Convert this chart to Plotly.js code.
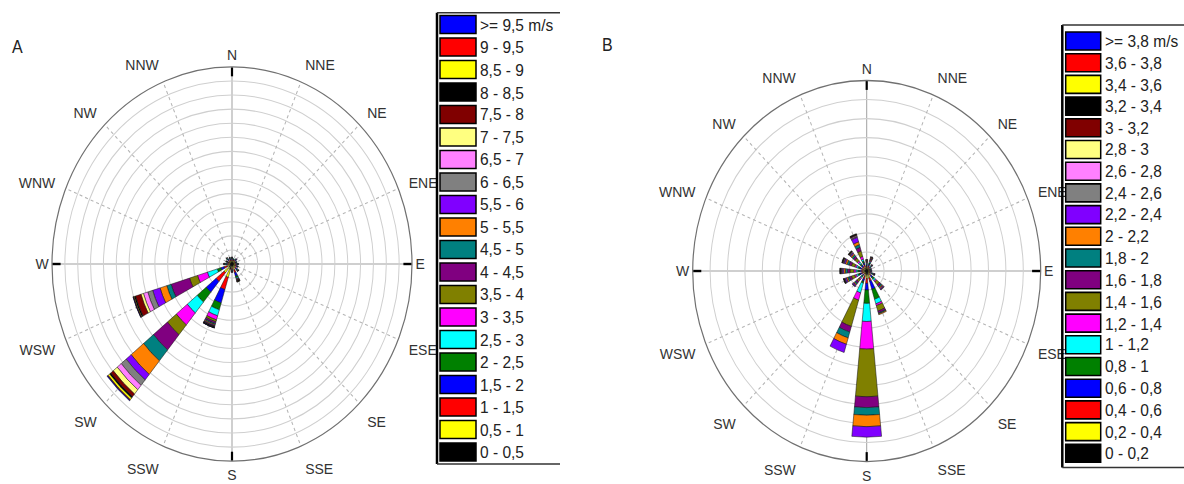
<!DOCTYPE html>
<html><head><meta charset="utf-8">
<script src="https://cdn.plot.ly/plotly-3.0.1.min.js"></script>
<style>
html,body{margin:0;padding:0;background:#fff;overflow:hidden}
#wrap{width:1184px;height:484px;overflow:hidden}
#chart{width:1184px;height:442px;transform:scaleY(1.095);transform-origin:0 0}
</style></head><body><div id="wrap"><div id="chart"></div></div>
<script>
// ---- categories / tick labels ----
const directions = ['N','NNE','NE','ENE','E','ESE','SE','SSE','S','SSW','SW','WSW','W','WNW','NW','NNW'];
const binLabelsA = ['0 - 0,5','0,5 - 1','1 - 1,5','1,5 - 2','2 - 2,5','2,5 - 3','3 - 3,5','3,5 - 4','4 - 4,5','4,5 - 5',
                    '5 - 5,5','5,5 - 6','6 - 6,5','6,5 - 7','7 - 7,5','7,5 - 8','8 - 8,5','8,5 - 9','9 - 9,5','>= 9,5 m/s'];
const binLabelsB = ['0 - 0,2','0,2 - 0,4','0,4 - 0,6','0,6 - 0,8','0,8 - 1','1 - 1,2','1,2 - 1,4','1,4 - 1,6','1,6 - 1,8','1,8 - 2',
                    '2 - 2,2','2,2 - 2,4','2,4 - 2,6','2,6 - 2,8','2,8 - 3','3 - 3,2','3,2 - 3,4','3,4 - 3,6','3,6 - 3,8','>= 3,8 m/s'];
const binColors = ['#000000','#FFFF00','#FF0000','#0000FF','#008000','#00FFFF','#FF00FF','#808000','#800080','#008080',
                   '#FF8000','#8000FF','#808080','#FF80FF','#FFFF80','#800000','#000000','#FFFF00','#FF0000','#0000FF'];

// ---- panel A: frequency per speed bin (low -> high), one list per direction ----
const A_N   = [0.15,0.1,0.08,0.06,0.04,0.03,0.02,0.01];
const A_NNE = [0.15,0.1,0.06,0.04,0.03,0.02];
const A_NE  = [0.15,0.12,0.08,0.06,0.04,0.03,0.02];
const A_ENE = [0.15,0.1,0.06,0.04,0.03,0.02];
const A_E   = [0.15,0.12,0.08,0.06,0.05,0.03,0.01];
const A_ESE = [0.15,0.12,0.1,0.06,0.04,0.02,0.01];
const A_SE  = [0.15,0.15,0.12,0.1,0.06,0.04,0.03,0.02,0.02,0.01];
const A_SSE = [0.2,0.25,0.2,0.25,0.12,0.08,0.05,0.05,0.04,0.03,0.02,0.02,0.01,0.01,0.01];
const A_S   = [0.15,0.15,0.1,0.08,0.05,0.03,0.02,0.01];
const A_SSW = [0.4,0.6,0.9,1.0,0.5,0.45,0.3,0.15,0.12,0.08,0.07,0.05,0.03,0.02,0.02,0.02,0.01,0.01,0.01,0.01];
const A_SW  = [0.3,0.5,0.8,1.0,0.9,1.0,1.1,0.9,1.4,1.0,1.25,0.5,0.5,0.4,0.4,0.25,0.12,0.15,0.05,0.05];
const A_WSW = [0.2,0.2,0.25,0.25,0.3,0.8,0.8,0.65,1.5,0.35,0.55,0.6,0.4,0.35,0.2,0.45,0.1,0.05,0.03,0.02];
const A_W   = [0.15,0.12,0.1,0.08,0.06,0.05,0.04,0.03,0.02];
const A_WNW = [0.15,0.1,0.08,0.06,0.04,0.03,0.02,0.02];
const A_NW  = [0.15,0.12,0.1,0.08,0.06,0.04,0.03,0.02];
const A_NNW = [0.15,0.1,0.08,0.06,0.04,0.03,0.02,0.02];

// ---- panel B ----
const B_N   = [0.1,0.08,0.07,0.06,0.05,0.05,0.04,0.05,0.04,0.03,0.02,0.01];
const B_NNE = [0.1,0.1,0.1,0.08,0.08,0.06,0.05,0.06,0.05,0.04,0.03,0.02,0.01];
const B_NE  = [0.1,0.08,0.06,0.05,0.04,0.04,0.03,0.03,0.02];
const B_ENE = [0.08,0.06,0.05,0.04,0.03,0.02,0.02];
const B_E   = [0.08,0.06,0.05,0.04,0.03,0.02,0.02];
const B_ESE = [0.1,0.08,0.07,0.06,0.05,0.04,0.04,0.03,0.02,0.01];
const B_SE  = [0.12,0.1,0.1,0.12,0.12,0.1,0.08,0.2,0.12,0.08,0.06,0.05,0.03,0.02];
const B_SSE = [0.2,0.2,0.15,0.45,0.55,0.25,0.1,0.3,0.1,0.05,0.05];
const B_S   = [0.2,0.2,0.25,0.35,0.7,0.95,1.45,2.5,0.57,0.4,0.6,0.55];
const B_SSW = [0.15,0.15,0.15,0.12,0.1,0.53,0.4,1.44,0.31,0.32,0.35,0.45];
const B_SW  = [0.1,0.08,0.08,0.08,0.08,0.08,0.08,0.15,0.1,0.08,0.06,0.06,0.03,0.02];
const B_WSW = [0.12,0.1,0.1,0.1,0.1,0.1,0.1,0.2,0.12,0.1,0.08,0.08,0.04,0.02,0.01,0.01,0.02];
const B_W   = [0.12,0.1,0.1,0.1,0.1,0.1,0.12,0.22,0.14,0.12,0.1,0.08,0.05,0.03,0.02,0.02,0.03];
const B_WNW = [0.12,0.1,0.1,0.1,0.1,0.1,0.1,0.2,0.14,0.12,0.1,0.08,0.04,0.03,0.02,0.02,0.03];
const B_NW  = [0.1,0.1,0.1,0.1,0.1,0.1,0.1,0.18,0.12,0.1,0.08,0.06,0.04,0.03,0.02,0.02,0.03];
const B_NNW = [0.15,0.1,0.1,0.1,0.1,0.1,0.15,0.3,0.2,0.15,0.15,0.25,0.05,0.05,0.02,0.03,0.05];

const rowsA = [A_N,A_NNE,A_NE,A_ENE,A_E,A_ESE,A_SE,A_SSE,A_S,A_SSW,A_SW,A_WSW,A_W,A_WNW,A_NW,A_NNW];
const rowsB = [B_N,B_NNE,B_NE,B_ENE,B_E,B_ESE,B_SE,B_SSE,B_S,B_SSW,B_SW,B_WSW,B_W,B_WNW,B_NW,B_NNW];

// ---- build ----
const W = 1184, H = 442, SY = 1.095;
const FONT = 'Liberation Sans, Arial, sans-serif';
const angles = directions.map((d,i)=>i*22.5);
const nBins = binColors.length;

const traces = [];
// empty traces so that the grid (background) polar subplots are drawn
traces.push({type:'scatterpolar', subplot:'polar', r:[], theta:[], mode:'lines', showlegend:false, hoverinfo:'skip'});
traces.push({type:'scatterpolar', subplot:'polar3', r:[], theta:[], mode:'lines', showlegend:false, hoverinfo:'skip'});
function addRose(rows, labels, subplot){
  for(let k=0;k<nBins;k++){
    traces.push({
      type:'barpolar', subplot:subplot, name:labels[k], showlegend:false,
      theta:angles, width:angles.map(()=>11.25),
      r:rows.map(row => (row[k] && row[k]>0) ? row[k] : null),
      marker:{color:binColors[k], line:{color:'#111', width:0.5}},
      hoverinfo:'skip'
    });
  }
}
addRose(rowsA, binLabelsA, 'polar2');
addRose(rowsB, binLabelsB, 'polar4');

function dom(cx, cy, R){ return {x:[(cx-R)/W,(cx+R)/W], y:[1-(cy+R)/H, 1-(cy-R)/H]}; }
const main = [0,4,8,12];
const mainVals = main.map(i=>angles[i]), mainText = main.map(i=>directions[i]);
const minorIdx = angles.map((a,i)=>i).filter(i=>!main.includes(i));
const minorVals = minorIdx.map(i=>angles[i]), minorText = minorIdx.map(i=>directions[i]);
const tickfont = {family:FONT, size:14, color:'#333'};

function basePolar(d, rmax){
  return {domain:d, bgcolor:'#ffffff',
    radialaxis:{range:[0,rmax], dtick:1, tick0:0, showticklabels:false, ticks:'', showline:false,
                gridcolor:'#cfcfcf', gridwidth:1},
    angularaxis:{rotation:90, direction:'clockwise', tickmode:'array', tickvals:mainVals, ticktext:mainText,
                 gridcolor:'#a0a0a0', gridwidth:1, showline:true, linecolor:'#707070', linewidth:1.2,
                 ticks:'inside', ticklen:8, tickwidth:2.2, tickcolor:'#000', tickfont:tickfont}};
}
function barPolar(d, rmax){
  return {domain:d, bgcolor:'rgba(0,0,0,0)', barmode:'stack',
    radialaxis:{range:[0,rmax], visible:false},
    angularaxis:{rotation:90, direction:'clockwise', tickmode:'array', tickvals:minorVals, ticktext:minorText,
                 gridcolor:'#b4b4b4', gridwidth:1, griddash:'dot', showline:false,
                 ticks:'outside', ticklen:8, tickwidth:1, tickcolor:'rgba(0,0,0,0)', tickfont:tickfont}};
}
const dA = dom(232, 241.1, 180), dB = dom(866.7, 247.5, 174);

const shapes = [], annotations = [];
const px = x => x/W, py = y => 1 - (y/SY)/H;  // y in reference (screen) pixels

function addLegend(labels, x0, yTop, yBot, sx0, sx1, c0, pitch, tx){
  shapes.push({type:'line', xref:'paper', yref:'paper', x0:px(x0), x1:px(x0), y0:py(yTop), y1:py(yBot), line:{color:'#000', width:2.5}});
  shapes.push({type:'line', xref:'paper', yref:'paper', x0:px(x0), x1:px(x0+123), y0:py(yTop), y1:py(yTop), line:{color:'#333', width:1.3}});
  shapes.push({type:'line', xref:'paper', yref:'paper', x0:px(x0), x1:px(x0+123), y0:py(yBot), y1:py(yBot), line:{color:'#333', width:1.3}});
  for(let i=0;i<nBins;i++){
    const k = nBins-1-i;
    const cy = c0 + i*pitch;
    shapes.push({type:'rect', xref:'paper', yref:'paper', x0:px(sx0), x1:px(sx1), y0:py(cy-9), y1:py(cy+9),
                 fillcolor:binColors[k], line:{color:'#000', width:1.5}});
    annotations.push({xref:'paper', yref:'paper', x:px(tx), y:py(cy), xanchor:'left', yanchor:'middle',
                      text:labels[k], showarrow:false, font:{family:FONT, size:15.5, color:'#222'}});
  }
}
addLegend(binLabelsA, 437, 12.7, 464, 440, 476, 24.5, 22.5, 478);
addLegend(binLabelsB, 1062.3, 25, 467.5, 1065.7, 1100.7, 41, 21.7, 1103);

annotations.push({xref:'paper', yref:'paper', x:px(17), y:py(47), text:'A', showarrow:false,
                  xanchor:'center', yanchor:'middle', font:{family:FONT, size:16, color:'#222'}});
annotations.push({xref:'paper', yref:'paper', x:px(607), y:py(45), text:'B', showarrow:false,
                  xanchor:'center', yanchor:'middle', font:{family:FONT, size:16, color:'#222'}});

const layout = {
  width:W, height:H, margin:{l:0,r:0,t:0,b:0}, paper_bgcolor:'#fff', showlegend:false,
  font:{family:FONT},
  polar: basePolar(dA, 14), polar2: barPolar(dA, 14),
  polar3: basePolar(dB, 10), polar4: barPolar(dB, 10),
  shapes:shapes, annotations:annotations
};
Plotly.newPlot('chart', traces, layout, {staticPlot:true, displayModeBar:false});
</script></body></html>
